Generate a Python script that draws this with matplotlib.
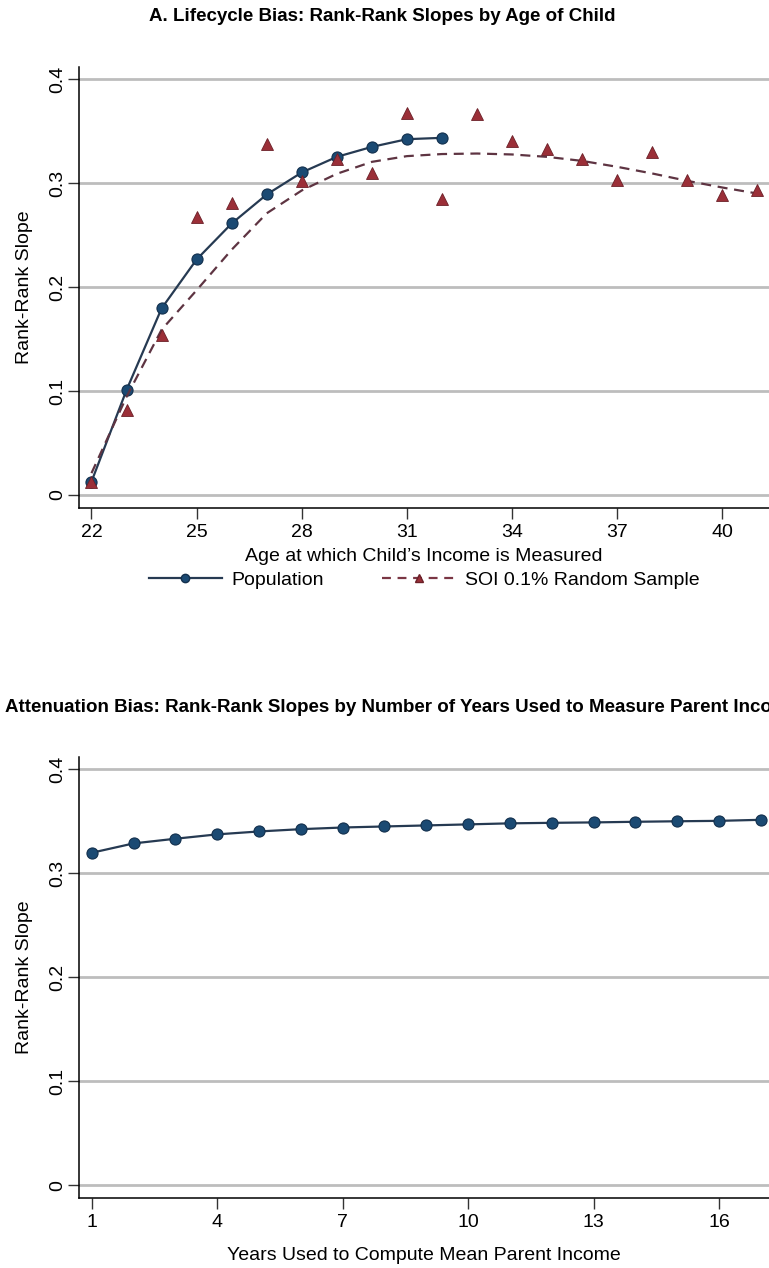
import matplotlib
matplotlib.use('Agg')
import matplotlib.pyplot as plt
from matplotlib.lines import Line2D

plt.rcParams['font.family'] = ['Liberation Sans', 'DejaVu Sans']

# 패널 A 데이터
ages_pop = [22, 23, 24, 25, 26, 27, 28, 29, 30, 31, 32]
slope_pop = [0.0128, 0.101, 0.1795, 0.2266, 0.2612, 0.2891, 0.3103, 0.3253, 0.3349, 0.3423, 0.3436]

ages_soi = list(range(22, 42))
slope_soi = [0.0122, 0.0817, 0.1538, 0.2676, 0.2805, 0.3381, 0.3022, 0.3237, 0.3099, 0.3676,
             0.2843, 0.367, 0.3407, 0.3333, 0.3234, 0.3035, 0.3298, 0.3026, 0.2888, 0.2933]
fit_soi = [0.021, 0.0945, 0.159, 0.197, 0.236, 0.271, 0.293, 0.309, 0.3205, 0.326,
           0.328, 0.3285, 0.3276, 0.3253, 0.3214, 0.3157, 0.3093, 0.3022, 0.2958, 0.29]

age_ticks = [22, 25, 28, 31, 34, 37, 40]

# 패널 B 데이터
years = list(range(1, 18))
slope_years = [0.3197, 0.3287, 0.3332, 0.3374, 0.3402, 0.3424, 0.344, 0.345, 0.346,
               0.347, 0.348, 0.3485, 0.3489, 0.3495, 0.350, 0.3504, 0.3514]
year_ticks = [1, 4, 7, 10, 13, 16]

y_ticks = [0, 0.1, 0.2, 0.3, 0.4]
y_ticklabels = ['0', '0.1', '0.2', '0.3', '0.4']

navy = '#1b4a73'
navy_edge = '#13304d'
navy_line = '#263a52'
red = '#9b2f38'
red_edge = '#6b2028'
maroon = '#5e3442'
grid_c = '#bdbdbd'
fs = 14

fig = plt.figure(figsize=(7.69, 12.68), dpi=100)


def style_axes(ax):
    ax.spines['top'].set_visible(False)
    ax.spines['right'].set_visible(False)
    ax.spines['left'].set_linewidth(1.1)
    ax.spines['bottom'].set_linewidth(1.1)
    ax.set_ylim(-0.0125, 0.4118)
    ax.set_yticks(y_ticks)
    ax.set_yticklabels(y_ticklabels, rotation=90, va='center')
    for y in y_ticks:
        ax.axhline(y, color=grid_c, lw=2, zorder=0)
    ax.tick_params(axis='both', length=8, width=1, labelsize=fs, color='#333333')
    ax.tick_params(axis='y', pad=1)
    ax.set_ylabel('Rank-Rank Slope', fontsize=fs, labelpad=12)


# A. 생애주기 편향
ax1 = fig.add_axes([0.1027, 0.5994, 0.8973, 0.3478])
style_axes(ax1)
ax1.plot(ages_pop, slope_pop, color=navy_line, lw=1.6, marker='o', ms=8,
         mfc=navy, mec=navy_edge, mew=0.8, zorder=3)
ax1.plot(ages_soi, fit_soi, color=maroon, lw=1.6, ls=(0, (4.5, 3)), zorder=4)
ax1.plot(ages_soi, slope_soi, ls='none', marker='^', ms=9,
         mfc=red, mec=red_edge, mew=0.6, zorder=5)
ax1.set_xlim(21.643, 41.33)
ax1.set_xticks(age_ticks)
ax1.set_xlabel("Age at which Child’s Income is Measured", fontsize=fs, labelpad=5)

handles = [
    Line2D([], [], color=navy_line, lw=1.6, marker='o', ms=6, mfc=navy, mec=navy_edge),
    Line2D([], [], color='#7a3644', lw=1.6, ls=(0, (4, 3)), marker='^', ms=6, mfc=red, mec=red_edge),
]
fig.legend(handles, ['Population', 'SOI 0.1% Random Sample'], loc='center',
           bbox_to_anchor=(0.5514, 0.5426), ncol=2, frameon=False, fontsize=fs,
           handlelength=3.75, handletextpad=0.5, columnspacing=3.0)

fig.text(0.497, 0.9866, 'A. Lifecycle Bias: Rank-Rank Slopes by Age of Child',
         ha='center', va='center', fontsize=13.5, fontweight='bold')

# B. 감쇠 편향 (원본처럼 제목이 그림 가장자리에서 잘림)
ax2 = fig.add_axes([0.1027, 0.055, 0.8973, 0.348])
style_axes(ax2)
ax2.plot(years, slope_years, color=navy_line, lw=1.6, marker='o', ms=8,
         mfc=navy, mec=navy_edge, mew=0.8, zorder=3)
ax2.set_xlim(0.696, 17.195)
ax2.set_xticks(year_ticks)
ax2.set_xlabel('Years Used to Compute Mean Parent Income', fontsize=fs, labelpad=11)

fig.text(5 / 769, 1 - 708 / 1268,
         'Attenuation Bias: Rank-Rank Slopes by Number of Years Used to Measure Parent Income',
         ha='left', va='center', fontsize=13.5, fontweight='bold')

fig.savefig('out.png', dpi=100)
